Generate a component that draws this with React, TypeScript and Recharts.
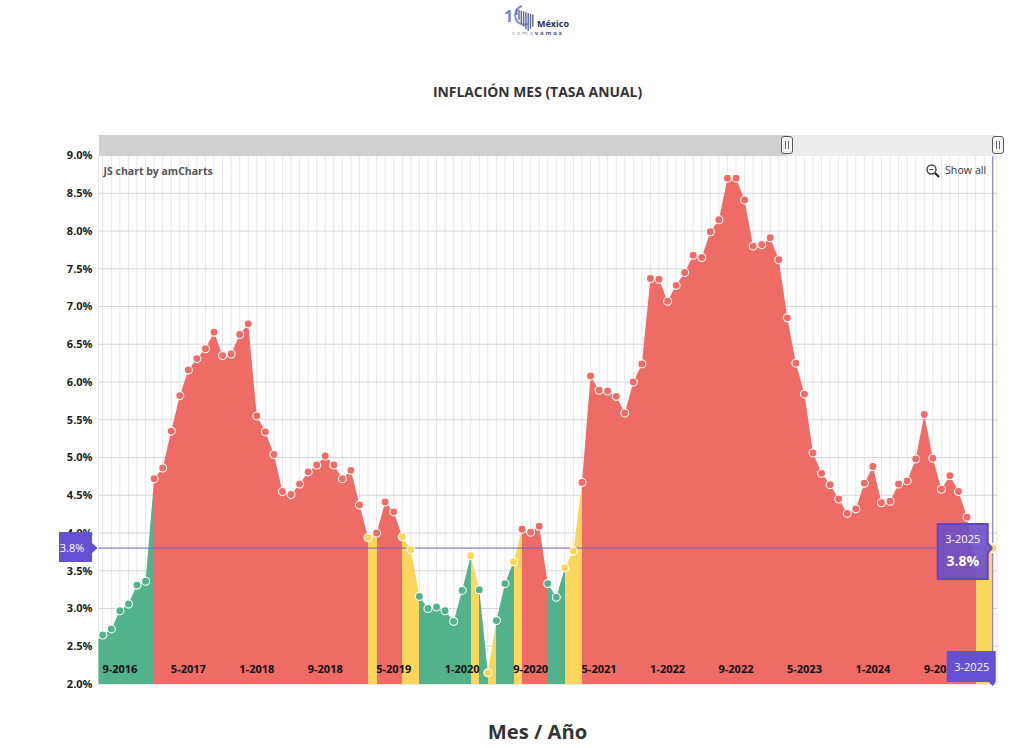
import React from 'react';
import { AreaChart, Area, XAxis, YAxis, CartesianGrid, ReferenceLine, ReferenceDot } from 'recharts';

// First entry (6-2016) sits just left of the visible window, amCharts clips it too
const months = [
  '6-2016', '7-2016', '8-2016', '9-2016', '10-2016', '11-2016', '12-2016',
  '1-2017', '2-2017', '3-2017', '4-2017', '5-2017', '6-2017', '7-2017', '8-2017', '9-2017', '10-2017', '11-2017', '12-2017',
  '1-2018', '2-2018', '3-2018', '4-2018', '5-2018', '6-2018', '7-2018', '8-2018', '9-2018', '10-2018', '11-2018', '12-2018',
  '1-2019', '2-2019', '3-2019', '4-2019', '5-2019', '6-2019', '7-2019', '8-2019', '9-2019', '10-2019', '11-2019', '12-2019',
  '1-2020', '2-2020', '3-2020', '4-2020', '5-2020', '6-2020', '7-2020', '8-2020', '9-2020', '10-2020', '11-2020', '12-2020',
  '1-2021', '2-2021', '3-2021', '4-2021', '5-2021', '6-2021', '7-2021', '8-2021', '9-2021', '10-2021', '11-2021', '12-2021',
  '1-2022', '2-2022', '3-2022', '4-2022', '5-2022', '6-2022', '7-2022', '8-2022', '9-2022', '10-2022', '11-2022', '12-2022',
  '1-2023', '2-2023', '3-2023', '4-2023', '5-2023', '6-2023', '7-2023', '8-2023', '9-2023', '10-2023', '11-2023', '12-2023',
  '1-2024', '2-2024', '3-2024', '4-2024', '5-2024', '6-2024', '7-2024', '8-2024', '9-2024', '10-2024', '11-2024', '12-2024',
  '1-2025', '2-2025', '3-2025',
];

const rates = [
  2.54, 2.65, 2.73, 2.97, 3.06, 3.31, 3.36,
  4.72, 4.86, 5.35, 5.82, 6.16, 6.31, 6.44, 6.66, 6.35, 6.37, 6.63, 6.77,
  5.55, 5.34, 5.04, 4.55, 4.51, 4.65, 4.81, 4.9, 5.02, 4.9, 4.72, 4.83,
  4.37, 3.94, 4.0, 4.41, 4.28, 3.95, 3.78, 3.16, 3.0, 3.02, 2.97, 2.83,
  3.24, 3.7, 3.25, 2.15, 2.84, 3.33, 3.62, 4.05, 4.01, 4.09, 3.33, 3.15,
  3.54, 3.76, 4.67, 6.08, 5.89, 5.88, 5.81, 5.59, 6.0, 6.24, 7.37, 7.36,
  7.07, 7.28, 7.45, 7.68, 7.65, 7.99, 8.15, 8.7, 8.7, 8.41, 7.8, 7.82,
  7.91, 7.62, 6.85, 6.25, 5.84, 5.06, 4.79, 4.64, 4.45, 4.26, 4.32, 4.66,
  4.88, 4.4, 4.42, 4.65, 4.69, 4.98, 5.57, 4.99, 4.58, 4.76, 4.55, 4.21,
  3.59, 3.77, 3.8,
];

const yTicks = [2, 2.5, 3, 3.5, 4, 4.5, 5, 5.5, 6, 6.5, 7, 7.5, 8, 8.5, 9];
const labelledMonths = ['9-2016', '5-2017', '1-2018', '9-2018', '5-2019', '1-2020', '9-2020', '5-2021', '1-2022', '9-2022', '5-2023', '1-2024', '9-2024'];

const RED = '#ee6b66';
const GREEN = '#52b28b';
const YELLOW = '#fbd65c';
const PURPLE = '#6650d2';
const FONT = '"Open Sans", "Noto Sans", sans-serif';

const rows = months.map((month, idx) => ({ idx, month, value: rates[idx] }));
const xTicks = rows.slice(1).map((r) => r.idx);
const lastRow = rows[rows.length - 1];

// Banxico band: 3% +/- 1, with a tolerance colour on either side
const colorFor = (v: number) => {
  if (v >= 4) return RED;
  if (v >= 3.5 || v < 2.5) return YELLOW;
  return GREEN;
};

// the cursor balloon is drawn by the last tick, so it covers the 9-2024 label
const XTick = ({ x, y, payload }: any) => {
  const month = months[payload.value];
  if (payload.value === lastRow.idx) {
    return (
      <g>
        <path d={`M${x - 46} ${y - 35} H${x + 3} V${y - 4} L${x} ${y} L${x - 4} ${y - 4} H${x - 46} Z`} fill={PURPLE} />
        <text x={x - 21} y={y - 15} textAnchor="middle" fontFamily={FONT} fontSize={11} fill="#fff">{month}</text>
      </g>
    );
  }
  if (!labelledMonths.includes(month)) return <g />;
  return (
    <text x={x} y={y - 13} textAnchor="middle" fontFamily={FONT} fontSize={11} fontWeight={700} fill="#111">
      {month}
    </text>
  );
};

const MonthDot = ({ cx, cy, payload, index }: any) => {
  if (index === 0) return <g key="first" />;
  return <circle key={payload.month} cx={cx} cy={cy} r={4} fill={colorFor(payload.value)} stroke="#fff" strokeWidth={1.1} />;
};

const TooltipBalloon = ({ cx, cy }: any) => (
  <g>
    <circle cx={cx} cy={cy} r={4.2} fill={YELLOW} stroke="#fff" strokeWidth={1.1} />
    <path d={`M${cx - 55} ${cy - 24} H${cx - 5} V${cy - 5} L${cx - 1} ${cy} L${cx - 5} ${cy + 5} V${cy + 31} H${cx - 55} Z`} fill="#6a4fc9" fillOpacity={0.9} stroke="#6146c4" strokeWidth={2} />
    <text x={cx - 30} y={cy - 5} textAnchor="middle" fontFamily={FONT} fontSize={11} fill="#fff">3-2025</text>
    <text x={cx - 30} y={cy + 18} textAnchor="middle" fontFamily={FONT} fontSize={14} fontWeight={700} fill="#fff">3.8%</text>
  </g>
);

const Grip = ({ left }: { left: number }) => (
  <div style={{ position: 'absolute', left, top: 136, width: 12, height: 18, boxSizing: 'border-box', background: '#f4f4f4', border: '1.5px solid #555', borderRadius: 3 }}>
    <div style={{ position: 'absolute', left: 2.5, top: 4, width: 1.5, height: 8, background: '#666' }} />
    <div style={{ position: 'absolute', left: 5.5, top: 4, width: 1.5, height: 8, background: '#666' }} />
  </div>
);

const Logo = () => (
  <svg width={70} height={36} style={{ position: 'absolute', left: 502, top: 3 }}>
    <text x={2} y={19} fontFamily={FONT} fontSize={16} fontWeight={700} fill="#7d86b5">1</text>
    <path d="M20 3 A 9.5 9.5 0 1 0 26 21" fill="none" stroke="#8a93bd" strokeWidth={2} />
    {[6, 10, 13, 15, 17, 18, 15, 12].map((h, i) => (
      <rect key={i} x={14 + i * 2.3} y={6 + i * 0.8} width={1.4} height={h} fill="#5c6699" />
    ))}
    <text x={35} y={24} fontFamily={FONT} fontSize={9} fontWeight={700} fill="#2e3050">México</text>
    <text x={10} y={32} fontFamily={FONT} fontSize={6} letterSpacing={1.8} fill="#8a8fae">como<tspan fontWeight={700} fill="#50557c">vamos</tspan></text>
  </svg>
);

const App = () => {
  return (
    <div style={{ position: 'absolute', left: 0, top: 0, width: 1024, height: 748, background: '#fff', overflow: 'hidden', fontFamily: FONT }}>
      <Logo />
      <div style={{ position: 'absolute', left: 0, width: 1075, top: 82, textAlign: 'center', fontSize: 13.9, fontWeight: 700, color: '#333', lineHeight: '20px' }}>
        INFLACIÓN MES (TASA ANUAL)
      </div>

      <div style={{ position: 'absolute', left: 0, top: 0 }}>
        <AreaChart width={1024} height={748} data={rows} margin={{ top: 155.5, right: 27, bottom: 0, left: 0 }}>
          <defs>
            {/* each segment keeps the colour of the month it starts from */}
            <linearGradient id="bandFill" x1="0" y1="0" x2="1" y2="0">
              {rows.slice(0, -1).flatMap((r, i) => [
                <stop key={`a${i}`} offset={i / (rows.length - 1)} stopColor={colorFor(r.value)} />,
                <stop key={`b${i}`} offset={(i + 1) / (rows.length - 1)} stopColor={colorFor(r.value)} />,
              ])}
            </linearGradient>
          </defs>
          <CartesianGrid stroke="#e7e7eb" horizontal={false} />
          <CartesianGrid stroke="#d6d6dc" vertical={false} />
          <Area
            type="linear"
            dataKey="value"
            fill="url(#bandFill)"
            fillOpacity={1}
            stroke="none"
            dot={(props: any) => <MonthDot {...props} />}
            activeDot={false}
            isAnimationActive={false}
          />
          <XAxis
            type="number"
            dataKey="idx"
            domain={[0.5, 105.5]}
            allowDataOverflow
            ticks={xTicks}
            interval={0}
            height={64}
            axisLine={false}
            tickLine={false}
            tickSize={0}
            tick={<XTick />}
          />
          <YAxis
            type="number"
            domain={[2, 9]}
            ticks={yTicks}
            interval={0}
            width={98.5}
            axisLine={false}
            tickLine={false}
            tick={{ fill: '#1c1c1c', fontSize: 11, fontWeight: 700, fontFamily: FONT, dx: 2 }}
            tickFormatter={(v: number) => `${v.toFixed(1)}%`}
          />
          <ReferenceLine y={lastRow.value} stroke="#6a5bc8" strokeWidth={1} />
          <ReferenceLine x={lastRow.idx} stroke="#7d70cf" strokeWidth={1} />
          <ReferenceDot x={lastRow.idx} y={lastRow.value} ifOverflow="visible" shape={<TooltipBalloon />} />
        </AreaChart>
      </div>

      {/* left cursor balloon, has to sit over the 4.0% tick */}
      <svg width={40} height={32} style={{ position: 'absolute', left: 59, top: 532 }}>
        <path d="M0 0 H33 V11 L38.5 16 L33 21 V30 H0 Z" fill={PURPLE} />
        <text x={13} y={20} textAnchor="middle" fontFamily={FONT} fontSize={11} fill="#fff">3.8%</text>
      </svg>

      {/* scrollbar over the plot */}
      <div style={{ position: 'absolute', left: 98.5, top: 135, width: 688, height: 20.5, background: '#d0d0d0' }} />
      <div style={{ position: 'absolute', left: 786.5, top: 135, width: 210.5, height: 20.5, background: '#ececec' }} />
      <Grip left={781} />
      <Grip left={992} />

      <div style={{ position: 'absolute', left: 103.5, top: 164, fontSize: 10.5, fontWeight: 700, color: '#555', lineHeight: '15px' }}>JS chart by amCharts</div>
      <svg width={16} height={16} style={{ position: 'absolute', left: 925, top: 163 }}>
        <circle cx={6.5} cy={6.5} r={4.5} fill="#fff" stroke="#444" strokeWidth={1.4} />
        <line x1={4.5} y1={6.5} x2={8.5} y2={6.5} stroke="#444" strokeWidth={1} />
        <line x1={10} y1={10} x2={14} y2={14} stroke="#222" strokeWidth={2} />
      </svg>
      <div style={{ position: 'absolute', left: 945, top: 163, fontSize: 10.7, color: '#333', lineHeight: '15px' }}>Show all</div>

      <div style={{ position: 'absolute', left: 0, width: 1075, top: 717, textAlign: 'center', fontSize: 20.2, fontWeight: 700, color: '#333', lineHeight: '29px' }}>
        Mes / Año
      </div>
    </div>
  );
};

export default App;
